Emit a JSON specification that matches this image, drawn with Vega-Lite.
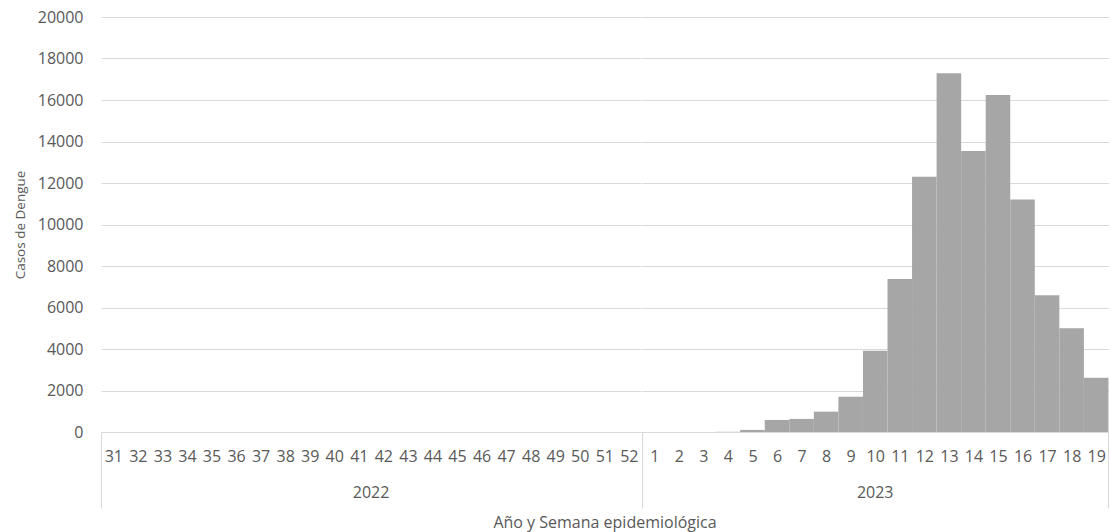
{
  "$schema": "https://vega.github.io/schema/vega-lite/v6.json",
  "padding": {"left": 13, "top": 9, "right": 0, "bottom": 2},
  "background": "white",
  "bounds": "flush",
  "config": {
    "font": "Open Sans",
    "view": {"stroke": null},
    "axis": {"labelColor": "#595959", "titleColor": "#595959", "titleFontWeight": "normal"}
  },
  "data": {
    "values": [
      {"anio": 2022, "semana": 31, "casos": 0},
      {"anio": 2022, "semana": 32, "casos": 0},
      {"anio": 2022, "semana": 33, "casos": 0},
      {"anio": 2022, "semana": 34, "casos": 0},
      {"anio": 2022, "semana": 35, "casos": 0},
      {"anio": 2022, "semana": 36, "casos": 0},
      {"anio": 2022, "semana": 37, "casos": 0},
      {"anio": 2022, "semana": 38, "casos": 0},
      {"anio": 2022, "semana": 39, "casos": 0},
      {"anio": 2022, "semana": 40, "casos": 0},
      {"anio": 2022, "semana": 41, "casos": 0},
      {"anio": 2022, "semana": 42, "casos": 0},
      {"anio": 2022, "semana": 43, "casos": 0},
      {"anio": 2022, "semana": 44, "casos": 0},
      {"anio": 2022, "semana": 45, "casos": 0},
      {"anio": 2022, "semana": 46, "casos": 0},
      {"anio": 2022, "semana": 47, "casos": 0},
      {"anio": 2022, "semana": 48, "casos": 0},
      {"anio": 2022, "semana": 49, "casos": 0},
      {"anio": 2022, "semana": 50, "casos": 0},
      {"anio": 2022, "semana": 51, "casos": 0},
      {"anio": 2022, "semana": 52, "casos": 0},
      {"anio": 2023, "semana": 1, "casos": 0},
      {"anio": 2023, "semana": 2, "casos": 0},
      {"anio": 2023, "semana": 3, "casos": 0},
      {"anio": 2023, "semana": 4, "casos": 10},
      {"anio": 2023, "semana": 5, "casos": 100},
      {"anio": 2023, "semana": 6, "casos": 580},
      {"anio": 2023, "semana": 7, "casos": 630},
      {"anio": 2023, "semana": 8, "casos": 980},
      {"anio": 2023, "semana": 9, "casos": 1700},
      {"anio": 2023, "semana": 10, "casos": 3920},
      {"anio": 2023, "semana": 11, "casos": 7370},
      {"anio": 2023, "semana": 12, "casos": 12300},
      {"anio": 2023, "semana": 13, "casos": 17290},
      {"anio": 2023, "semana": 14, "casos": 13540},
      {"anio": 2023, "semana": 15, "casos": 16240},
      {"anio": 2023, "semana": 16, "casos": 11200},
      {"anio": 2023, "semana": 17, "casos": 6590},
      {"anio": 2023, "semana": 18, "casos": 5000},
      {"anio": 2023, "semana": 19, "casos": 2620}
    ]
  },
  "facet": {
    "column": {
      "field": "anio",
      "type": "ordinal",
      "title": "Año y Semana epidemiológica",
      "header": {
        "labelOrient": "bottom",
        "titleOrient": "bottom",
        "labelFontSize": 16,
        "labelColor": "#595959",
        "labelPadding": 53,
        "titleFontSize": 16,
        "titleFontWeight": "normal",
        "titleColor": "#595959",
        "titlePadding": 4
      }
    }
  },
  "spacing": 0,
  "resolve": {"scale": {"x": "independent"}},
  "spec": {
    "width": {"step": 24.55},
    "height": 415,
    "mark": {"type": "bar", "color": "#a6a6a6"},
    "encoding": {
      "x": {
        "field": "semana",
        "type": "ordinal",
        "scale": {"paddingInner": 0, "paddingOuter": 0},
        "axis": {
          "title": null,
          "labelAngle": 0,
          "labelFontSize": 16,
          "domainColor": "#d9d9d9",
          "tickBand": "extent",
          "tickSize": 76,
          "tickColor": {
            "condition": {"test": "datum.value == 19 || !!datum.extra", "value": "#d9d9d9"},
            "value": "transparent"
          },
          "labelPadding": -60
        }
      },
      "y": {
        "field": "casos",
        "type": "quantitative",
        "scale": {"domain": [0, 20000]},
        "axis": {
          "title": "Casos de Dengue",
          "titleFontSize": 13.5,
          "titlePadding": 10,
          "values": [0, 2000, 4000, 6000, 8000, 10000, 12000, 14000, 16000, 18000, 20000],
          "format": "d",
          "labelFontSize": 16,
          "labelPadding": 18,
          "domain": false,
          "ticks": false,
          "gridColor": "#d9d9d9"
        }
      }
    }
  }
}
